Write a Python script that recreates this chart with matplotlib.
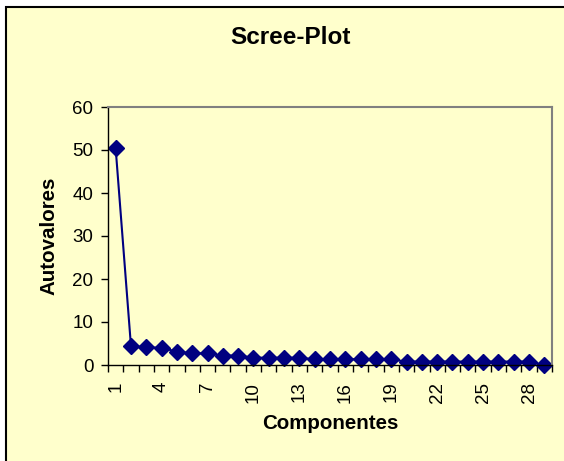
import numpy as np
import matplotlib.pyplot as plt
from matplotlib.patches import Rectangle

componentes = np.arange(1, 30)
autovalores = [50.4, 4.4, 4.1, 4.0, 3.1, 2.7, 2.7, 2.2, 2.2, 1.7,
               1.7, 1.7, 1.7, 1.3, 1.3, 1.4, 1.3, 1.4, 1.3, 0.8,
               0.8, 0.8, 0.8, 0.8, 0.8, 0.8, 0.8, 0.8, 0.0]
xticks = list(range(1, 30, 3))
yticks = [0, 10, 20, 30, 40, 50, 60]

W, H = 564, 461
bg = '#FFFFCC'
navy = '#000080'

plt.rcParams['font.family'] = ['Liberation Sans', 'DejaVu Sans']

fig = plt.figure(figsize=(W / 100, H / 100), dpi=100, facecolor='white')
# chart area (border runs off the right/bottom edge)
fig.patches.append(Rectangle((6 / W, -0.05), 1.1, (H - 7) / H + 0.05,
                             transform=fig.transFigure, facecolor=bg,
                             edgecolor='black', lw=1.5, zorder=-10))

ax = fig.add_axes([108 / W, (H - 365) / H, (552 - 108) / W, (365 - 107) / H])
ax.set_facecolor(bg)
ax.plot(componentes, autovalores, color=navy, lw=1.5, marker='D',
        markersize=8, markerfacecolor=navy, markeredgecolor=navy, clip_on=False)

ax.set_xlim(0.5, 29.5)
ax.set_ylim(0, 60)
ax.set_yticks(yticks)
ax.set_xticks(xticks)
ax.set_xticks(np.arange(0.5, 30, 1), minor=True)
ax.tick_params(axis='x', which='major', length=0, pad=12, labelsize=13.5, labelrotation=90)
ax.tick_params(axis='x', which='minor', length=5, width=1, direction='out')
ax.tick_params(axis='y', length=5, width=1, direction='out', labelsize=13.5, pad=5.5)

for s in ['left', 'bottom']:
    ax.spines[s].set_color('black')
    ax.spines[s].set_linewidth(1)
for s in ['top', 'right']:
    ax.spines[s].set_color('#808080')
    ax.spines[s].set_linewidth(1.5)

fig.text(290 / W, 1 - 38 / H, 'Scree-Plot', ha='center', va='center',
         fontsize=17.5, fontweight='bold')
ax.set_xlabel('Componentes', fontsize=14.75, fontweight='bold', labelpad=8)
ax.set_ylabel('Autovalores', fontsize=14.75, fontweight='bold', labelpad=10)

fig.savefig('out.png', dpi=100)
